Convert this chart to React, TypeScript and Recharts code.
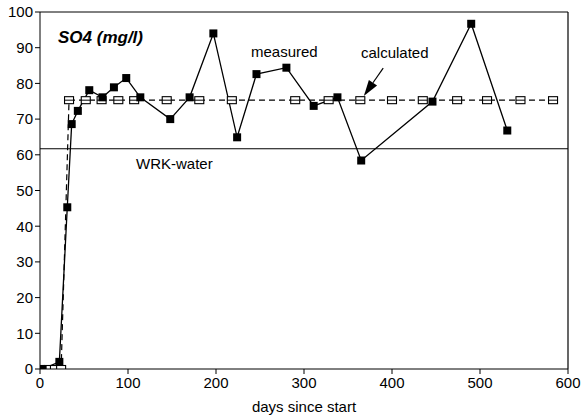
import React from 'react';
import { LineChart, Line, XAxis, YAxis, ReferenceLine } from 'recharts';

// measured sulphate, mg/l
const measuredDays = [0, 3, 22, 31, 36, 43, 56, 71, 84, 98, 114, 148, 170, 197, 224, 246, 280, 311, 338, 365, 446, 490, 531];
const measuredSO4 = [0, 0, 2, 45.3, 68.6, 72.3, 78.1, 76.1, 78.9, 81.5, 76.1, 70.0, 76.1, 94.0, 64.9, 82.6, 84.4, 73.7, 76.1, 58.4, 74.9, 96.7, 66.8];

// model output, mg/l
const calculatedDays = [0, 10, 17, 24, 33, 52, 70, 89, 107, 144, 181, 218, 290, 328, 364, 400, 435, 474, 508, 546, 583];
const calculatedSO4 = [0, 0, 0, 0, 75.3, 75.3, 75.3, 75.3, 75.3, 75.3, 75.3, 75.3, 75.3, 75.3, 75.3, 75.3, 75.3, 75.3, 75.3, 75.3, 75.3];

const wrkWater = 61.7;

const xTicks = [0, 100, 200, 300, 400, 500, 600];
const yTicks = [0, 10, 20, 30, 40, 50, 60, 70, 80, 90, 100];

// arrow from the "calculated" label down to the curve
const arrowFrom = { x: 390, y: 84.3 };
const arrowTo = { x: 368, y: 76.5 };

const measured = measuredDays.map((day, i) => ({ day, so4: measuredSO4[i] }));
const calculated = calculatedDays.map((day, i) => ({ day, so4: calculatedSO4[i] }));

const FONT = '"Liberation Sans", Arial, Helvetica, sans-serif';

const FilledSquare = (props: any) => {
  const { cx, cy } = props;
  if (cx == null || cy == null) return <g />;
  return <rect x={cx - 4} y={cy - 4} width={8} height={8} fill="#000" />;
};

const OpenSquare = (props: any) => {
  const { cx, cy } = props;
  if (cx == null || cy == null) return <g />;
  return (
    <g>
      <rect x={cx - 4.5} y={cy - 3.5} width={9} height={7} fill="#fff" stroke="#000" strokeWidth={1.1} />
      <line x1={cx - 4.5} y1={cy} x2={cx + 4.5} y2={cy} stroke="#000" strokeWidth={1} />
    </g>
  );
};

const Arrow = (props: any) => {
  const { x1, y1, x2, y2 } = props;
  const dx = x2 - x1;
  const dy = y2 - y1;
  const len = Math.sqrt(dx * dx + dy * dy) || 1;
  const ux = dx / len;
  const uy = dy / len;
  const head = 16;
  const half = 5;
  const bx = x2 - ux * head;
  const by = y2 - uy * head;
  const pts = `${x2},${y2} ${bx - uy * half},${by + ux * half} ${bx + uy * half},${by - ux * half}`;
  return (
    <g>
      <line x1={x1} y1={y1} x2={bx} y2={by} stroke="#000" strokeWidth={1.2} />
      <polygon points={pts} fill="#000" />
    </g>
  );
};

const label = (left: number, top: number, size: number, extra?: React.CSSProperties): React.CSSProperties => ({
  position: 'absolute',
  left,
  top,
  fontFamily: FONT,
  fontSize: size,
  lineHeight: `${size}px`,
  color: '#000',
  whiteSpace: 'nowrap',
  ...extra,
});

export default function App() {
  return (
    <div style={{ position: 'absolute', left: 0, top: 0, width: 586, height: 418, background: '#fff' }}>
      <LineChart
        width={586}
        height={418}
        margin={{ top: 12, right: 18, bottom: 0, left: 0 }}
        style={{ fontFamily: FONT }}
      >
        <XAxis
          type="number"
          dataKey="day"
          domain={[0, 600]}
          ticks={xTicks}
          allowDataOverflow
          height={49}
          stroke="#000"
          tickSize={5}
          tickMargin={3}
          tick={{ fill: '#000', fontSize: 15 }}
          label={{ value: 'days since start', position: 'insideBottom', offset: 6, fill: '#000', fontSize: 15 }}
        />
        <YAxis
          type="number"
          domain={[0, 100]}
          ticks={yTicks}
          allowDataOverflow
          width={40}
          stroke="#000"
          tickSize={5}
          tickMargin={2}
          tick={{ fill: '#000', fontSize: 15 }}
        />
        {/* frame: top and right edges */}
        <ReferenceLine y={100} stroke="#000" strokeWidth={1} />
        <ReferenceLine x={600} stroke="#000" strokeWidth={1.2} />
        <ReferenceLine y={wrkWater} stroke="#000" strokeWidth={1.2} />
        <ReferenceLine segment={[arrowFrom, arrowTo]} shape={Arrow} />
        <Line
          data={calculated}
          dataKey="so4"
          type="linear"
          stroke="#000"
          strokeWidth={1.2}
          strokeDasharray="6 4"
          dot={OpenSquare}
          activeDot={false}
          isAnimationActive={false}
        />
        <Line
          data={measured}
          dataKey="so4"
          type="linear"
          stroke="#000"
          strokeWidth={1.3}
          dot={FilledSquare}
          activeDot={false}
          isAnimationActive={false}
        />
      </LineChart>
      <div style={label(58, 29, 17, { fontWeight: 'bold', fontStyle: 'italic' })}>SO4 (mg/l)</div>
      <div style={label(251, 44, 15)}>measured</div>
      <div style={label(361, 45, 15)}>calculated</div>
      <div style={label(136, 156, 15)}>WRK-water</div>
    </div>
  );
}
